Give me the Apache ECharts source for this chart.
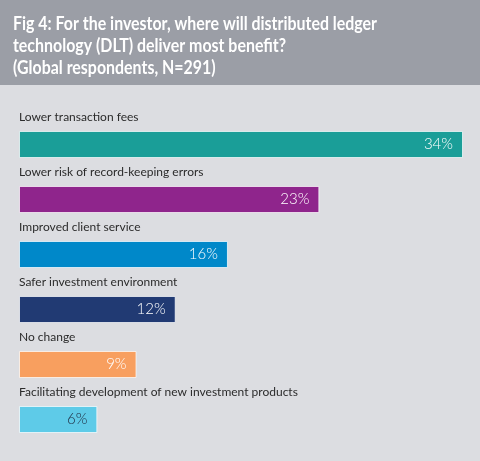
<!DOCTYPE html>
<html>
<head>
<meta charset="utf-8">
<script src="https://cdn.jsdelivr.net/npm/echarts@6/dist/echarts.min.js"></script>
<style>
html,body{margin:0;padding:0;background:#dcdde1;}
#c{width:480px;height:461px;}
</style>
</head>
<body>
<div id="c"></div>
<script>
var categories = [
  'Lower transaction fees',
  'Lower risk of record-keeping errors',
  'Improved client service',
  'Safer investment environment',
  'No change',
  'Facilitating development of new investment products'
];
var values = [34, 23, 16, 12, 9, 6];
var barColors = ['#1a9e98', '#8f258c', '#0088c9', '#213a73', '#f89f5f', '#5ecbe8'];
var valueLabelColors = ['#ffffff', '#ffffff', '#ffffff', '#ffffff', '#ffffff', '#1e2b40'];
var titleText = 'Fig 4: For the investor, where will distributed ledger\ntechnology (DLT) deliver most benefit?\n(Global respondents, N=291)';

var FONT = "Lato, Roboto, sans-serif";
var chart = echarts.init(document.getElementById('c'), null, {renderer: 'canvas'});

var mainData = values.map(function (v, i) {
  return {
    value: v,
    itemStyle: {color: barColors[i]},
    label: {color: valueLabelColors[i]}
  };
});

chart.setOption({
  backgroundColor: '#dcdde1',
  animation: false,
  graphic: [{
    type: 'rect',
    shape: {x: 0, y: 0, width: 480, height: 85},
    style: {fill: '#9b9ea6'},
    z: -1
  }, {
    type: 'text',
    x: 13,
    y: 13,
    scaleX: 0.885,
    style: {
      text: titleText,
      fill: '#ffffff',
      font: 'bold 18px ' + FONT,
      lineHeight: 22,
      textAlign: 'left',
      textVerticalAlign: 'top'
    }
  }],
  grid: {left: 19, right: 17, top: 117, bottom: 14, containLabel: false},
  xAxis: {
    type: 'value',
    min: 0,
    max: 34,
    show: false
  },
  yAxis: {
    type: 'category',
    data: categories,
    inverse: true,
    show: false
  },
  series: [{
    type: 'bar',
    data: mainData,
    barWidth: 27,
    itemStyle: {borderColor: 'rgba(255,255,255,0.7)', borderWidth: 1},
    label: {
      show: true,
      position: 'insideRight',
      distance: 10,
      formatter: '{c}%',
      fontSize: 15,
      fontWeight: 300,
      fontFamily: FONT
    }
  }, {
    type: 'bar',
    data: values,
    barWidth: 27,
    barGap: '-100%',
    itemStyle: {color: 'transparent'},
    silent: true,
    label: {
      show: true,
      position: [0, -8],
      align: 'left',
      verticalAlign: 'bottom',
      formatter: '{b}',
      color: '#2b2b2b',
      fontSize: 12,
      fontFamily: FONT
    }
  }]
});
</script>
</body>
</html>
